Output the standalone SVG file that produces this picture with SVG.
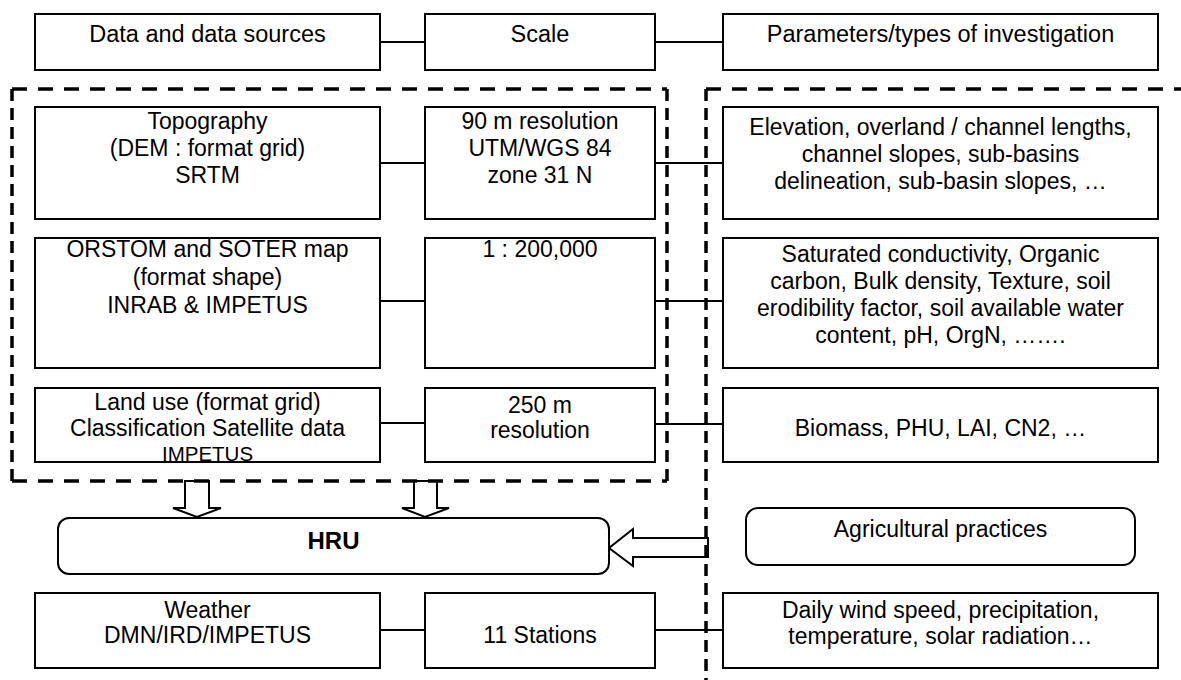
<svg xmlns="http://www.w3.org/2000/svg" width="1181" height="680" viewBox="0 0 1181 680">
<style>
.box{fill:#fff;stroke:#000;stroke-width:2}
.rbox{fill:#fff;stroke:#000;stroke-width:2}
.con{stroke:#000;stroke-width:2;fill:none}
.dh{stroke:#000;stroke-width:3.5;fill:none;stroke-dasharray:15 11}
.dv{stroke:#000;stroke-width:3.5;fill:none;stroke-dasharray:12 7}
.arr{fill:#fff;stroke:#000;stroke-width:2;stroke-linejoin:miter}
text{font-family:"Liberation Sans",Arial,sans-serif;fill:#000;text-anchor:middle}
.h{font-size:23.5px}
.b{font-size:23px}
.s{font-size:20.5px}
.hru{font-size:24px;font-weight:bold}
</style>
<rect width="1181" height="680" fill="#fff"/>

<g id="connectors">
<line class="con" x1="380" y1="42" x2="425" y2="42"/>
<line class="con" x1="655" y1="42" x2="723" y2="42"/>
<line class="con" x1="380" y1="163" x2="425" y2="163"/>
<line class="con" x1="655" y1="163" x2="723" y2="163"/>
<line class="con" x1="380" y1="301" x2="425" y2="301"/>
<line class="con" x1="655" y1="301" x2="723" y2="301"/>
<line class="con" x1="380" y1="423" x2="425" y2="423"/>
<line class="con" x1="655" y1="424" x2="723" y2="424"/>
<line class="con" x1="380" y1="630" x2="425" y2="630"/>
<line class="con" x1="655" y1="630" x2="723" y2="630"/>
<polygon class="arr" points="185,481 209,481 209,508 221,508 197,517 173,508 185,508"/>
<polygon class="arr" points="414,481 437,481 437,508 449,508 425,517 402,508 414,508"/>
<polygon class="arr" points="708,538 633,538 633,529 609,548 633,566 633,557 708,557"/>
</g>

<g id="dashed-groups">
<line class="dh" x1="12" y1="89" x2="667" y2="89"/>
<line class="dv" x1="667" y1="89" x2="667" y2="481"/>
<line class="dh" x1="12" y1="481" x2="667" y2="481"/>
<line class="dv" x1="12" y1="89" x2="12" y2="481"/>
<line class="dh" x1="706" y1="89" x2="1181" y2="89"/>
<line class="dv" x1="706" y1="89" x2="706" y2="680"/>
</g>

<g id="header-data"><rect class="box" x="35" y="14" width="345" height="56"/><text class="h" x="207.5" y="42">Data and data sources</text></g>
<g id="header-scale"><rect class="box" x="425" y="14" width="230" height="56"/><text class="h" x="540" y="42">Scale</text></g>
<g id="header-params"><rect class="box" x="723" y="14" width="435" height="56"/><text class="h" x="940.5" y="42">Parameters/types of investigation</text></g>

<g id="topography"><rect class="box" x="35" y="107" width="345" height="112"/>
<text class="b" x="207.5" y="129">Topography</text><text class="b" x="207.5" y="156">(DEM : format grid)</text><text class="b" x="207.5" y="183">SRTM</text></g>
<g id="scale-dem"><rect class="box" x="425" y="107" width="230" height="112"/>
<text class="b" x="540" y="129">90 m resolution</text><text class="b" x="540" y="156">UTM/WGS 84</text><text class="b" x="540" y="183">zone 31 N</text></g>
<g id="params-dem"><rect class="box" x="723" y="107" width="435" height="112"/>
<text class="b" x="940.5" y="135">Elevation, overland / channel lengths,</text><text class="b" x="940.5" y="162">channel slopes, sub-basins</text><text class="b" x="940.5" y="189">delineation, sub-basin slopes, …</text></g>

<g id="soil"><rect class="box" x="35" y="238" width="345" height="130"/>
<text class="b" x="207.5" y="257">ORSTOM and SOTER map</text><text class="b" x="207.5" y="285">(format shape)</text><text class="b" x="207.5" y="313">INRAB &amp; IMPETUS</text></g>
<g id="scale-soil"><rect class="box" x="425" y="238" width="230" height="130"/>
<text class="b" x="540" y="257">1 : 200,000</text></g>
<g id="params-soil"><rect class="box" x="723" y="238" width="435" height="130"/>
<text class="b" x="940.5" y="262">Saturated conductivity, Organic</text><text class="b" x="940.5" y="289">carbon, Bulk density, Texture, soil</text><text class="b" x="940.5" y="316">erodibility factor, soil available water</text><text class="b" x="940.5" y="343">content, pH, OrgN, …….</text></g>

<g id="landuse"><rect class="box" x="35" y="388" width="345" height="74"/>
<text class="b" x="207.5" y="410">Land use (format grid)</text><text class="b" x="207.5" y="436">Classification Satellite data</text><text class="s" x="207.5" y="461">IMPETUS</text></g>
<g id="scale-landuse"><rect class="box" x="425" y="388" width="230" height="74"/>
<text class="b" x="540" y="413">250 m</text><text class="b" x="540" y="438">resolution</text></g>
<g id="params-landuse"><rect class="box" x="723" y="388" width="435" height="74"/>
<text class="b" x="940.5" y="436">Biomass, PHU, LAI, CN2, …</text></g>

<g id="hru"><rect class="rbox" x="58" y="518" width="551" height="56" rx="11"/>
<text class="hru" x="333.5" y="549">HRU</text></g>
<g id="agri"><rect class="rbox" x="746" y="508" width="389" height="57" rx="12"/>
<text class="b" x="940.5" y="537">Agricultural practices</text></g>

<g id="weather"><rect class="box" x="35" y="593" width="345" height="75"/>
<text class="b" x="207.5" y="618">Weather</text><text class="b" x="207.5" y="643">DMN/IRD/IMPETUS</text></g>
<g id="scale-weather"><rect class="box" x="425" y="593" width="230" height="75"/>
<text class="b" x="540" y="643">11 Stations</text></g>
<g id="params-weather"><rect class="box" x="723" y="593" width="435" height="75"/>
<text class="b" x="940.5" y="618">Daily wind speed, precipitation,</text><text class="b" x="940.5" y="644">temperature, solar radiation…</text></g>
</svg>
